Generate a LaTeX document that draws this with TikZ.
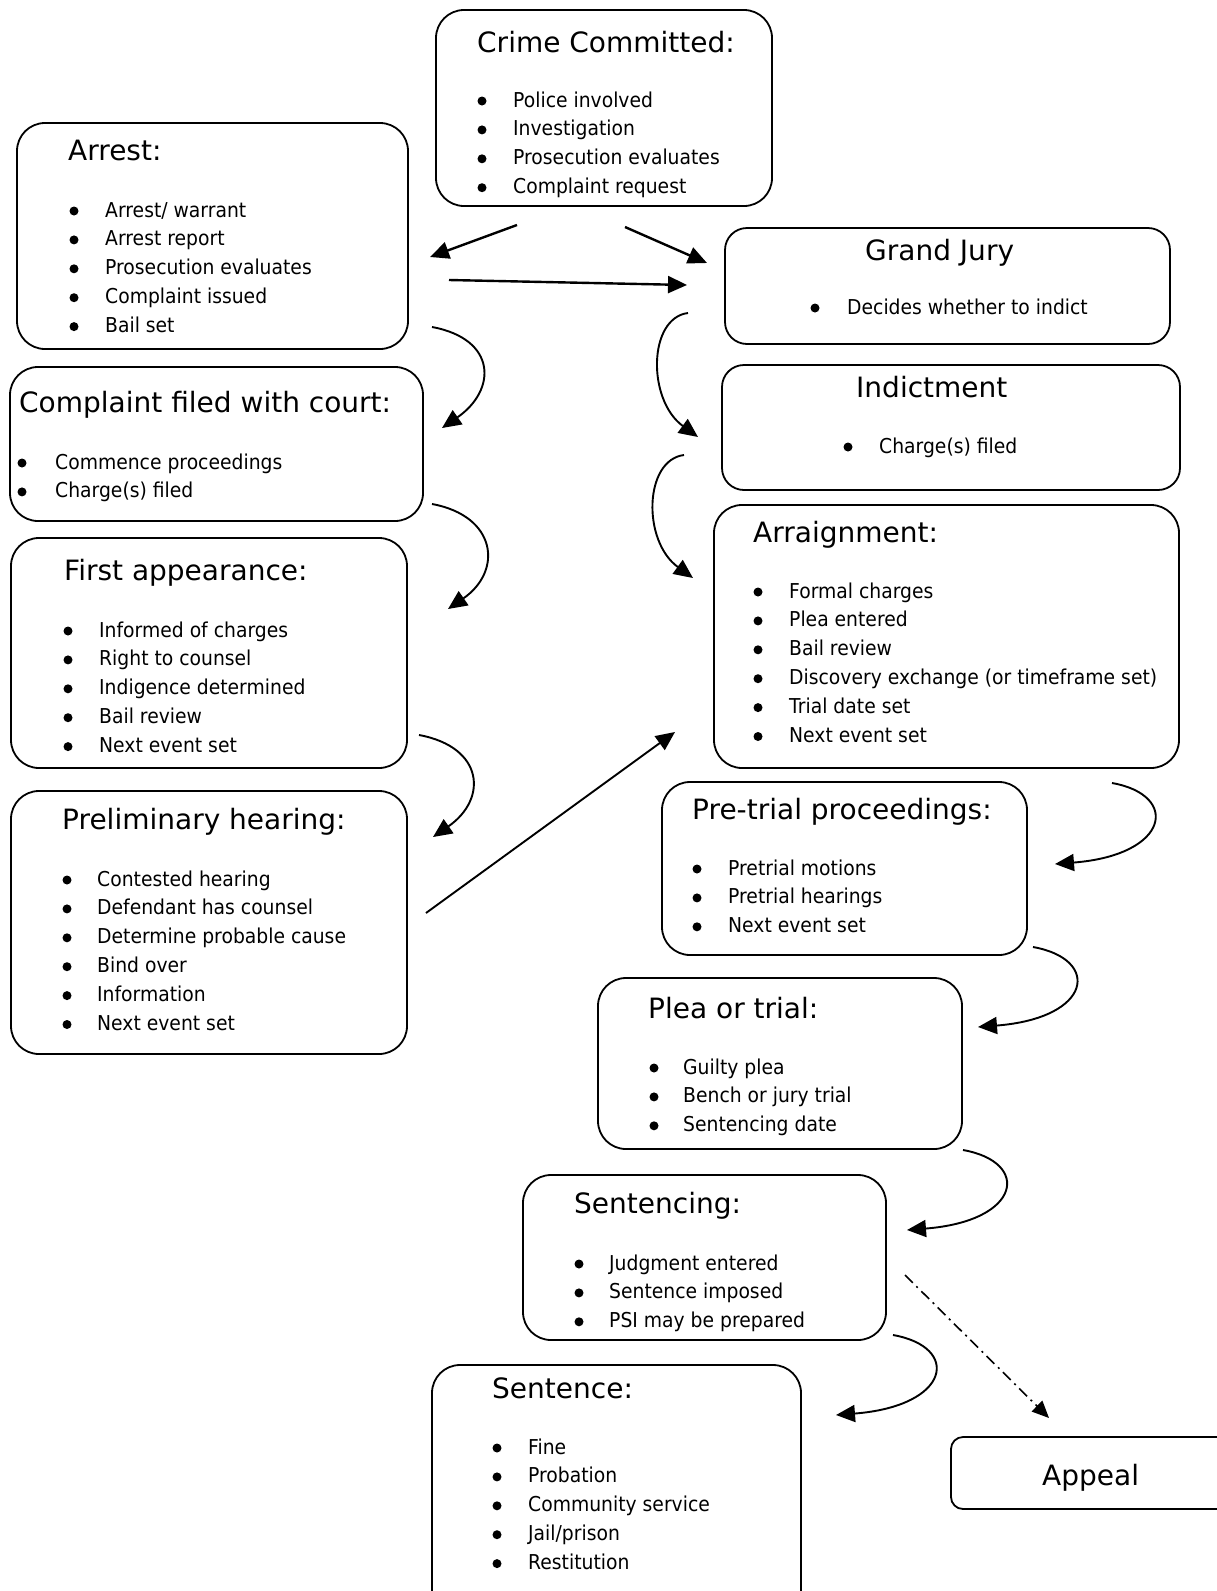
\documentclass[tikz,border=0pt]{standalone}
\usepackage{fontspec}
\setmainfont{DejaVu Sans}
\newfontfamily\bodyfont[FakeStretch=0.915]{DejaVu Sans}
\usetikzlibrary{arrows.meta,calc}

\tikzset{
  stage/.style={draw, rectangle, rounded corners=28pt, line width=1.8pt, inner sep=0pt},
  head/.style={anchor=base west, inner sep=0pt, font=\fontsize{28}{34}\selectfont},
  entry/.style={anchor=base west, inner sep=0pt, font=\bodyfont\fontsize{20.5}{29}\selectfont},
  flow/.style={-{Triangle[length=19pt,width=17pt]}, line width=2.4pt},
  swing/.style={-{Triangle[length=19pt,width=17pt]}, line width=1.9pt},
  appealflow/.style={-{Triangle[length=17pt,width=15pt]}, line width=1.6pt, dash pattern=on 11pt off 5pt on 2pt off 5pt}
}

% bullet list: name, bullet x, text x, first baseline, items
\newcommand{\stageitems}[5]{%
  \foreach \t [count=\i from 0] in {#5} {
    \fill ({#2},{#4+28.9*\i-6}) circle (4.5pt);
    \node[entry] (#1-\i) at ({#3},{#4+28.9*\i}) {\t};
  }}

\begin{document}
\begin{tikzpicture}[x=1pt, y=-1pt]
    \useasboundingbox (0,0) rectangle (1217,1591);

    % left column
    \node[stage, minimum width=336pt, minimum height=196pt] (crime) at (604,108) {};
    \node[head] (crime-t) at (477,52) {Crime Committed:};
    \stageitems{crime}{482}{513}{107}{Police involved, Investigation, Prosecution evaluates, Complaint request}

    \node[stage, minimum width=391pt, minimum height=226pt] (arrest) at (212.5,236) {};
    \node[head] (arrest-t) at (68,160) {Arrest:};
    \stageitems{arrest}{74}{105}{217}{Arrest/ warrant, Arrest report, Prosecution evaluates, Complaint issued, Bail set}

    \node[stage, minimum width=413pt, minimum height=154pt] (complaint) at (216.5,444) {};
    \node[head] (complaint-t) at (19,412) {Complaint filed with court:};
    \stageitems{complaint}{22}{55}{469}{Commence proceedings, Charge(s) filed}

    \node[stage, minimum width=396pt, minimum height=230pt] (first) at (209,653) {};
    \node[head] (first-t) at (64,580) {First appearance:};
    \stageitems{first}{68}{99}{637}{Informed of charges, Right to counsel, Indigence determined, Bail review, Next event set}

    \node[stage, minimum width=396pt, minimum height=263pt] (prelim) at (209,922.5) {};
    \node[head] (prelim-t) at (62,829) {Preliminary hearing:};
    \stageitems{prelim}{67}{97}{886}{Contested hearing, Defendant has counsel, Determine probable cause, Bind over, Information, Next event set}

    % right column
    \node[stage, rounded corners=22pt, minimum width=445pt, minimum height=116pt] (grand) at (947.5,286) {};
    \node[head] (grand-t) at (865,260) {Grand Jury};
    \stageitems{grand}{815}{847}{314}{Decides whether to indict}

    \node[stage, rounded corners=22pt, minimum width=458pt, minimum height=125pt] (indict) at (951,427.5) {};
    \node[head] (indict-t) at (856,397) {Indictment};
    \stageitems{indict}{848}{879}{453}{Charge(s) filed}

    \node[stage, minimum width=465pt, minimum height=263pt] (arraign) at (946.5,636.5) {};
    \node[head] (arraign-t) at (753,542) {Arraignment:};
    \stageitems{arraign}{758}{789}{598}{Formal charges, Plea entered, Bail review, Discovery exchange (or timeframe set), Trial date set, Next event set}

    \node[stage, minimum width=365pt, minimum height=173pt] (pretrial) at (844.5,868.5) {};
    \node[head] (pretrial-t) at (692,819) {Pre-trial proceedings:};
    \stageitems{pretrial}{697}{728}{875}{Pretrial motions, Pretrial hearings, Next event set}

    \node[stage, minimum width=364pt, minimum height=171pt] (plea) at (780,1063.5) {};
    \node[head] (plea-t) at (648,1018) {Plea or trial:};
    \stageitems{plea}{654}{683}{1074}{Guilty plea, Bench or jury trial, Sentencing date}

    \node[stage, minimum width=363pt, minimum height=165pt] (sentencing) at (704.5,1257.5) {};
    \node[head] (sentencing-t) at (574,1213) {Sentencing:};
    \stageitems{sentencing}{579}{609}{1270}{Judgment entered, Sentence imposed, PSI may be prepared}

    \node[stage, minimum width=369pt, minimum height=255pt] (sentence) at (616.5,1492.5) {};
    \node[head] (sentence-t) at (492,1398) {Sentence:};
    \stageitems{sentence}{497}{528}{1454}{Fine, Probation, Community service, Jail/prison, Restitution}

    \node[stage, rounded corners=12pt, minimum width=289pt, minimum height=72pt] (appeal) at (1095.5,1473) {};
    \node[head] (appeal-t) at (1042,1485) {Appeal};

    % straight arrows
    \coordinate (a1s) at (517,225);  \coordinate (a1e) at (430,257);
    \coordinate (a2s) at (625,227);  \coordinate (a2e) at (707,263);
    \coordinate (a3s) at (449,280);  \coordinate (a3e) at (687,285);
    \coordinate (a4s) at (426,913);  \coordinate (a4e) at (675,732);
    \draw[flow] (a1s) -- (a1e);
    \draw[flow] (a2s) -- (a2e);
    \draw[flow] (a3s) -- (a3e);
    \draw[flow, line width=1.9pt] (a4s) -- (a4e);

    % curved arrows, left column
    \coordinate (c1s) at (432,327);  \coordinate (c1e) at (442,428);
    \coordinate (c2s) at (432,504);  \coordinate (c2e) at (448,609);
    \coordinate (c3s) at (419,735);  \coordinate (c3e) at (433,837);
    \draw[swing] (c1s) .. controls ($(c1s)+(65,12)$) and ($(c1e)+(55,-38)$) .. (c1e);
    \draw[swing] (c2s) .. controls ($(c2s)+(65,12)$) and ($(c2e)+(55,-38)$) .. (c2e);
    \draw[swing] (c3s) .. controls ($(c3s)+(65,12)$) and ($(c3e)+(55,-38)$) .. (c3e);

    % curved arrows, right column
    \coordinate (c4s) at (688,313);  \coordinate (c4e) at (698,437);
    \coordinate (c5s) at (684,455);  \coordinate (c5e) at (693,578);
    \draw[swing] (c4s) .. controls ($(c4s)+(-40,5)$) and ($(c4e)+(-51,-37)$) .. (c4e);
    \draw[swing] (c5s) .. controls ($(c5s)+(-40,5)$) and ($(c5e)+(-51,-37)$) .. (c5e);

    \coordinate (c6s) at (1112,783); \coordinate (c6e) at (1055,864);
    \coordinate (c7s) at (1033,947); \coordinate (c7e) at (978,1027);
    \coordinate (c8s) at (963,1150); \coordinate (c8e) at (907,1230);
    \coordinate (c9s) at (893,1335); \coordinate (c9e) at (836,1415);
    \draw[swing] (c6s) .. controls ($(c6s)+(68,12)$) and ($(c6e)+(115,-9)$) .. (c6e);
    \draw[swing] (c7s) .. controls ($(c7s)+(68,12)$) and ($(c7e)+(115,-9)$) .. (c7e);
    \draw[swing] (c8s) .. controls ($(c8s)+(68,12)$) and ($(c8e)+(115,-9)$) .. (c8e);
    \draw[swing] (c9s) .. controls ($(c9s)+(68,12)$) and ($(c9e)+(115,-9)$) .. (c9e);

    % appeal
    \coordinate (d1s) at (905,1275); \coordinate (d1e) at (1049,1418);
    \draw[appealflow] (d1s) -- (d1e);
\end{tikzpicture}
\end{document}
